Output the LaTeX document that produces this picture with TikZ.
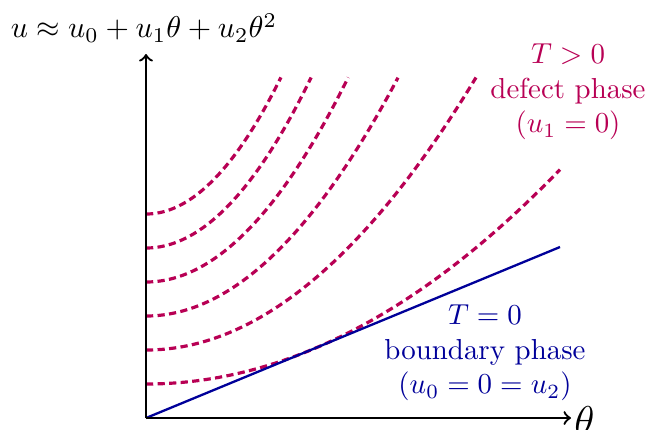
\documentclass[tikz,border=0pt]{standalone}
\usepackage{amsmath}
\begin{document}
\begin{tikzpicture}[x=0.346pt,y=-0.346pt,
  axisline/.style={thick,->},
  bndline/.style={thick,color=bcol},
  defcurve/.style={line width=1.1pt,dash pattern=on 2.5pt off 1.5pt,color=dcol},
  deflabel/.style={align=center,text=dcol,inner sep=0pt},
  bndlabel/.style={align=center,text=bcol,inner sep=0pt}]
\definecolor{dcol}{rgb}{0.72,0,0.33}
\definecolor{bcol}{rgb}{0,0,0.6}
\useasboundingbox (0,0) rectangle (649,429);
\coordinate (O) at (146,418);
\coordinate (xend) at (571,418);
\coordinate (yend) at (146,54);
\coordinate (lend) at (560,247);
% defect curves
\foreach \n/\m in {1/414,2/330,3/252,4/202.2,5/165.1,6/134.9}{
  \draw[defcurve] plot[domain=0:\m,samples=60,smooth] ({146+\x},{418-\n*(34+0.001254*\x*\x)});
}
\draw[bndline] (O) -- (lend);
\draw[axisline] (O) -- (xend);
\draw[axisline] (O) -- (yend);
\node[anchor=west,inner sep=1pt,font=\Large] (thlab) at ([yshift=-1pt]xend) {$\theta$};
\node[scale=1.04] (ulab) at (144,28) {$u \approx u_0 + u_1\theta + u_2\theta^2$};
\node[deflabel] (dlab) at (568,92) {$T>0$\\defect phase\\$(u_1=0)$};
\node[bndlabel] (blab) at (485,353) {$T=0$\\boundary phase\\$(u_0=0=u_2)$};
\end{tikzpicture}
\end{document}
